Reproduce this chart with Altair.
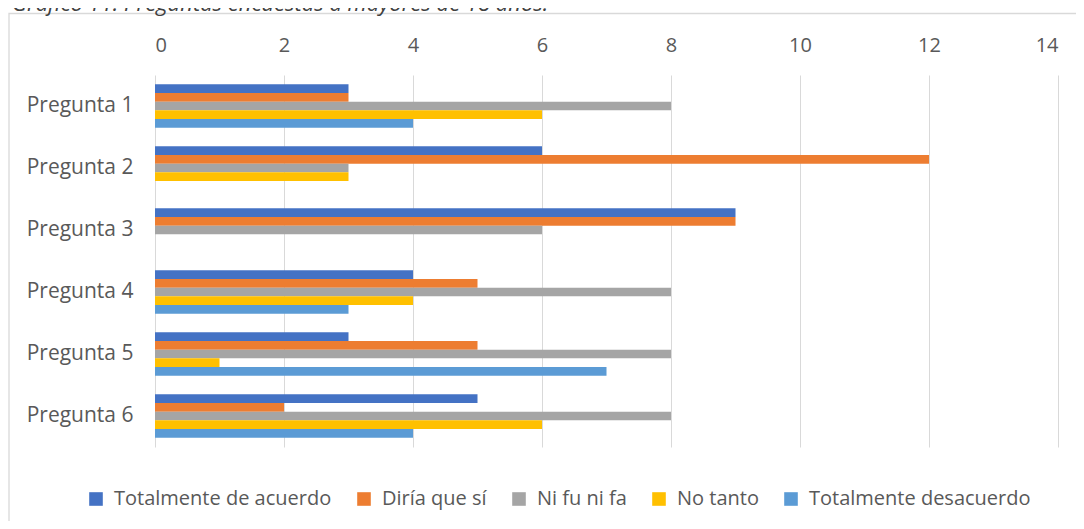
import altair as alt
import pandas as pd

preguntas = ["Pregunta 1", "Pregunta 2", "Pregunta 3", "Pregunta 4", "Pregunta 5", "Pregunta 6"]
series = ["Totalmente de acuerdo", "Diría que sí", "Ni fu ni fa", "No tanto", "Totalmente desacuerdo"]
totalmente_de_acuerdo = [3, 6, 9, 4, 3, 5]
diria_que_si = [3, 12, 9, 5, 5, 2]
ni_fu_ni_fa = [8, 3, 6, 8, 8, 8]
no_tanto = [6, 3, 0, 4, 1, 6]
totalmente_desacuerdo = [4, 0, 0, 3, 7, 4]
colores = ["#4472C4", "#ED7D31", "#A5A5A5", "#FFC000", "#5B9BD5"]
x_ticks = [0, 2, 4, 6, 8, 10, 12, 14]
titulo = "Gráfico 11. Preguntas encuestas a mayores de 18 años."

valores = [totalmente_de_acuerdo, diria_que_si, ni_fu_ni_fa, no_tanto, totalmente_desacuerdo]
rows = []
for s, vals in zip(series, valores):
    for p, v in zip(preguntas, vals):
        rows.append({"pregunta": p, "serie": s, "valor": v})
df = pd.DataFrame(rows)

FONT = "Open Sans"
TXT = "#595959"

bars = alt.Chart(df).mark_bar(size=8.7).encode(
    x=alt.X("valor:Q", scale=alt.Scale(domain=[0, 14], nice=False),
            axis=alt.Axis(orient="top", values=x_ticks, title=None, grid=True,
                          gridColor="#d9d9d9", domain=False, ticks=False,
                          labelFontSize=20, labelColor=TXT, labelFont=FONT,
                          labelPadding=20)),
    y=alt.Y("pregunta:N", sort=preguntas,
            scale=alt.Scale(paddingInner=0.3, paddingOuter=0.15),
            axis=alt.Axis(title=None, domain=False, ticks=False, labelFontSize=21,
                          labelColor=TXT, labelFont=FONT, labelPadding=22)),
    yOffset=alt.YOffset("serie:N", sort=series, scale=alt.Scale(paddingInner=0, paddingOuter=0)),
    color=alt.Color("serie:N", sort=series,
                    scale=alt.Scale(domain=series, range=colores),
                    legend=alt.Legend(orient="none", legendX=-69, legendY=414,
                                      direction="horizontal", columns=5, title=None,
                                      symbolType="square", symbolSize=185,
                                      symbolStrokeWidth=0, labelFontSize=20,
                                      labelColor=TXT, labelFont=FONT, labelLimit=0,
                                      labelOffset=8, columnPadding=22)),
)

frame = alt.Chart(pd.DataFrame({"a": [0]})).mark_rect(
    fill=None, stroke="#d9d9d9", strokeWidth=1.3
).encode(x=alt.value(-146), x2=alt.value(930), y=alt.value(-61.5), y2=alt.value(470))

title = alt.Chart(pd.DataFrame({"t": [titulo]})).mark_text(
    align="left", baseline="alphabetic", fontSize=22, fontStyle="italic",
    font=FONT, color="#404040"
).encode(text="t:N", x=alt.value(-143), y=alt.value(-64))

chart = alt.layer(frame, bars, title).properties(
    width=903, height=372,
    padding={"left": 147, "top": 67, "right": 18, "bottom": 74},
    autosize=alt.AutoSizeParams(type="none"),
).configure_view(stroke=None)

chart.save("out.html", embed_options={"renderer": "svg", "actions": False})
